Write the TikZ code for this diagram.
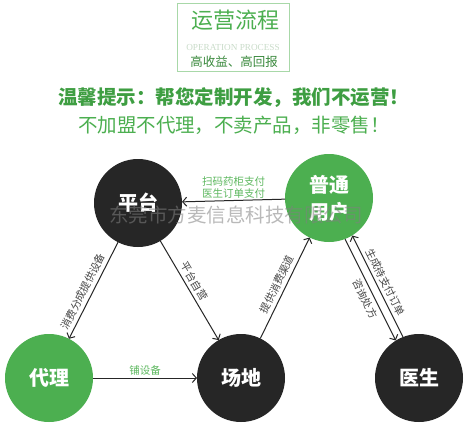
\documentclass[tikz,border=0pt]{standalone}
\usepackage{fontspec}
\setmainfont{Liberation Serif}
\newfontfamily\cjk{Noto Sans CJK SC}
\usetikzlibrary{arrows.meta}
\definecolor{cgreen}{HTML}{4CAF50}
\definecolor{hgreen}{HTML}{3E9E42}
\definecolor{lgreen}{HTML}{5DB85F}
\definecolor{cdark}{HTML}{262626}
\definecolor{boxgreen}{HTML}{A8D8A8}
\definecolor{opgray}{HTML}{C9DCC9}
\definecolor{subgreen}{HTML}{3B8A3E}
\begin{document}
\begin{tikzpicture}[x=1pt,y=-1pt,
  ball/.style={circle, minimum size=88pt, inner sep=0pt, outer sep=0pt, text=white,
    font=\cjk\bfseries\fontsize{20}{27}\selectfont, align=center},
  darkball/.style={ball, fill=cdark},
  greenball/.style={ball, fill=cgreen},
  arr/.style={draw=cdark, line width=1pt, -{Straight Barb[length=4pt,width=9pt]}},
  elab/.style={font=\cjk\fontsize{10.5}{12}\selectfont, text=cdark!85, inner sep=3.5pt},
  glab/.style={font=\cjk\fontsize{10.5}{12}\selectfont, text=lgreen, inner sep=2pt, align=center},
  titlebox/.style={draw=boxgreen, line width=0.8pt}
]
\useasboundingbox (0,0) rectangle (472,426);
\fill[white] (0,0) rectangle (472,426);

% title
\draw[titlebox] (177,3) rectangle (289,71);
\node[font=\cjk\fontsize{22}{22}\selectfont, text=cgreen] (title) at (235,20) {运营流程};
\node[font=\fontsize{9.2}{10}\selectfont, text=opgray] (optext) at (233,47) {OPERATION PROCESS};
\node[font=\cjk\fontsize{12.5}{13}\selectfont, text=subgreen] (sub) at (234,62) {高收益、高回报};

% headline
\node[font=\cjk\bfseries\fontsize{19.5}{20}\selectfont, text=hgreen] (h1) at (234,98) {温馨提示：帮您定制开发，我们不运营！};
\node[font=\cjk\fontsize{19.5}{20}\selectfont, text=cgreen] (h2) at (234,125) {不加盟不代理，不卖产品，非零售！};

% circles
\node[darkball] (pt) at (138,203) {平台};
\node[greenball] (user) at (329,198) {普通\\用户};
\node[greenball] (agent) at (49,378) {代理};
\node[darkball] (site) at (241,378) {场地};
\node[darkball] (doc) at (419,378) {医生};

% connectors
\draw[arr] (user) -- node[glab, above] {扫码药柜支付\\医生订单支付} (pt);
\draw[arr] (pt) -- node[elab, sloped, above, pos=0.55] {消费分成提供设备} (agent);
\draw[arr] (pt) -- node[elab, sloped, above, pos=0.45] {平台自营} (site);
\draw[arr] (agent) -- node[glab, above] {铺设备} (site);
\draw[arr] (site) -- node[elab, sloped, above] {提供消费渠道} (user);
\draw[arr, transform canvas={shift={(-3.6pt,-1.8pt)}}] (user) -- node[elab, sloped, below, pos=0.55] {咨询处方} (doc);
\draw[arr, transform canvas={shift={(3.6pt,1.8pt)}}] (doc) -- node[elab, sloped, above] {生成待支付订单} (user);

% watermark
\node[font=\cjk\fontsize{19.5}{20}\selectfont, text=gray, opacity=0.55] (wm) at (236,215) {东莞市方麦信息科技有限公司};
\end{tikzpicture}
\end{document}
